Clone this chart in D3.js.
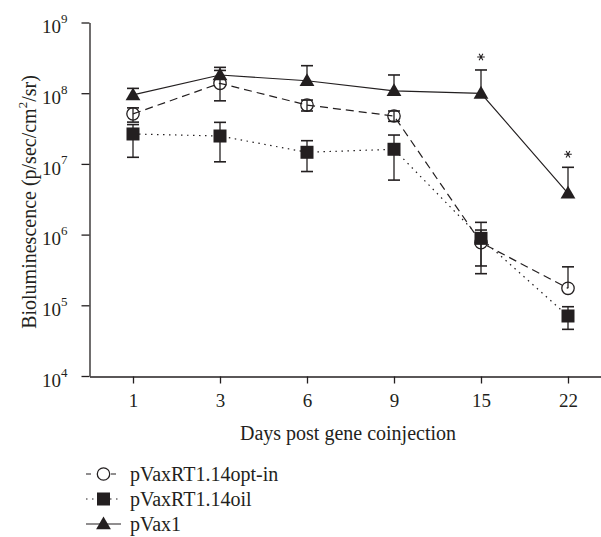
<!DOCTYPE html>
<html><head><meta charset="utf-8">
<script src="https://cdn.jsdelivr.net/npm/d3@7"></script>
<style>
body{margin:0;background:#fff;}
svg{display:block;}
text{font-family:"Liberation Serif","DejaVu Serif",serif;fill:#231f20;}
</style></head>
<body>
<script>
// ---- data ----
const days = ["1","3","6","9","15","22"];
const optInMean  = [5.1e7, 1.38e8, 6.8e7, 4.76e7, 7.7e5, 1.74e5];
const optInHigh  = [6.2e7, 2.1e8, 8.0e7, 5.6e7, 1.16e6, 3.5e5];
const optInLow   = [3.9e7, 7.8e7, 5.6e7, 4.0e7, 2.8e5, 1.74e5];
const oilMean    = [2.65e7, 2.48e7, 1.46e7, 1.61e7, 8.85e5, 7.06e4];
const oilHigh    = [3.6e7, 3.87e7, 2.13e7, 2.56e7, 1.49e6, 9.55e4];
const oilLow     = [1.24e7, 1.07e7, 7.8e6, 5.9e6, 3.6e5, 4.57e4];
const pvaxMean   = [9.45e7, 1.81e8, 1.5e8, 1.08e8, 9.95e7, 3.84e6];
const pvaxHigh   = [1.17e8, 2.32e8, 2.45e8, 1.81e8, 2.13e8, 8.95e6];
const pvaxLow    = [9.45e7, 1.81e8, 1.5e8, 1.08e8, 9.95e7, 3.84e6];
const significant = ["15","22"];
const yTickExps = [4,5,6,7,8,9];
const seriesNames = ["pVaxRT1.14opt-in","pVaxRT1.14oil","pVax1"];

const W = 601, H = 537;
const svg = d3.select("body").append("svg").attr("width",W).attr("height",H);
const ink = "#231f20";

const x = d3.scalePoint().domain(days).range([89.5, 611.5]).padding(0.5);
const y = d3.scaleLog().domain([1e4,1e9]).range([376, 22.5]);

// axes
const yAxis = svg.append("g").attr("transform","translate(89.5,0)")
  .call(d3.axisLeft(y).tickValues(yTickExps.map(e=>Math.pow(10,e))).tickSize(8).tickPadding(14).tickSizeOuter(0));
yAxis.select(".domain").attr("stroke",ink).attr("stroke-width",1.3);
yAxis.selectAll(".tick line").attr("stroke",ink).attr("stroke-width",1.3);
yAxis.selectAll(".tick text").each(function(d){
  const t = d3.select(this).text(null).attr("font-size",19).attr("dy","0.54em").attr("fill",ink)
    .attr("font-family","Liberation Serif, serif");
  t.append("tspan").text("10");
  t.append("tspan").attr("font-size",13).attr("dy","-0.79em").text(Math.round(Math.log10(d)));
});

const xAxis = svg.append("g").attr("transform","translate(0,376.5)")
  .call(d3.axisBottom(x).tickSize(7).tickPadding(10).tickSizeOuter(0));
xAxis.select(".domain").attr("stroke",ink).attr("stroke-width",1.3);
xAxis.selectAll(".tick line").attr("stroke",ink).attr("stroke-width",1.3);
xAxis.selectAll(".tick text").attr("font-size",19).attr("fill",ink).attr("font-family","Liberation Serif, serif");

// titles
svg.append("text").attr("x",348).attr("y",440).attr("text-anchor","middle")
  .attr("font-size",20).text("Days post gene coinjection");
const yl = svg.append("text").attr("transform","translate(36,202) rotate(-90)")
  .attr("text-anchor","middle").attr("font-size",20);
yl.append("tspan").text("Bioluminescence (p/sec/cm");
yl.append("tspan").attr("font-size",13).attr("dy","-0.7em").text("2");
yl.append("tspan").attr("dy","0.45em").text("/sr)");

// series
const series = [
  {name:seriesNames[0], mean:optInMean, hi:optInHigh, lo:optInLow, dash:"8,5", sym:"circle"},
  {name:seriesNames[1], mean:oilMean, hi:oilHigh, lo:oilLow, dash:"1.5,4.5", sym:"square"},
  {name:seriesNames[2], mean:pvaxMean, hi:pvaxHigh, lo:pvaxLow, dash:null, sym:"triangle"}
];

function drawSym(g, sym, cx, cy){
  if(sym==="circle"){
    g.append("circle").attr("cx",cx).attr("cy",cy).attr("r",6.2)
      .attr("fill","none").attr("stroke",ink).attr("stroke-width",1.3);
  } else if(sym==="square"){
    g.append("rect").attr("x",cx-6.5).attr("y",cy-6.5).attr("width",13).attr("height",13).attr("fill",ink);
  } else {
    g.append("path").attr("d",d3.symbol(d3.symbolTriangle,95)()).attr("transform",`translate(${cx},${cy+1})`).attr("fill",ink);
  }
}

const line = d3.line().x((d,i)=>x(days[i])).y(d=>y(d));
series.forEach(s=>{
  const g = svg.append("g");
  g.append("path").datum(s.mean).attr("d",line).attr("fill","none")
    .attr("stroke",ink).attr("stroke-width",1.2).attr("stroke-dasharray",s.dash);
  s.mean.forEach((m,i)=>{
    const cx = x(days[i]);
    g.append("line").attr("x1",cx).attr("x2",cx).attr("y1",y(s.hi[i])).attr("y2",y(s.lo[i]))
      .attr("stroke",ink).attr("stroke-width",1.3);
    [s.hi[i], s.lo[i]].forEach(v=>{
      if(v!==m) g.append("line").attr("x1",cx-6).attr("x2",cx+6).attr("y1",y(v)).attr("y2",y(v))
        .attr("stroke",ink).attr("stroke-width",1.6);
    });
    drawSym(g, s.sym, cx, y(m));
  });
});

// significance stars
significant.forEach(d=>{
  const i = days.indexOf(d);
  svg.append("path").attr("d",d3.symbol(d3.symbolAsterisk,40)())
    .attr("transform",`translate(${x(d)},${y(pvaxHigh[i])-13}) rotate(90)`)
    .attr("fill","none").attr("stroke",ink).attr("stroke-width",1.1);
});

// legend
const legY = [474, 499, 524];
series.forEach((s,i)=>{
  const g = svg.append("g").attr("transform",`translate(0,${legY[i]})`);
  g.append("line").attr("x1",86).attr("x2",121).attr("y1",0).attr("y2",0)
    .attr("stroke",ink).attr("stroke-width",1.2).attr("stroke-dasharray", s.dash ? (i===0?"5,20,5":"1.5,4.5") : null);
  drawSym(g, s.sym, 103.5, 0);
  g.append("text").attr("x",130).attr("y",0).attr("dy","0.33em").attr("font-size",20).text(s.name);
});
</script>
</body></html>
